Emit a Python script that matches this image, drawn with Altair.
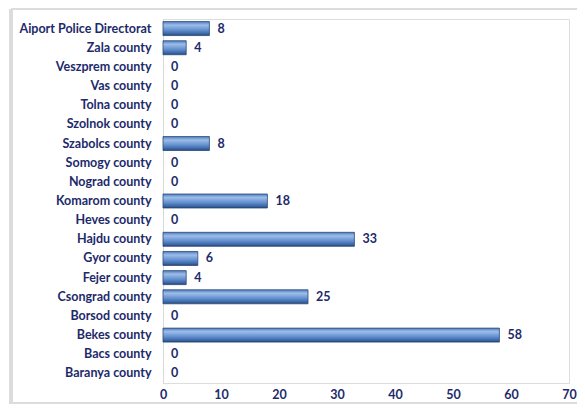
import altair as alt
import pandas as pd

categories = ["Aiport Police Directorat", "Zala county", "Veszprem county", "Vas county",
              "Tolna county", "Szolnok county", "Szabolcs county", "Somogy county",
              "Nograd county", "Komarom county", "Heves county", "Hajdu county",
              "Gyor county", "Fejer county", "Csongrad county", "Borsod county",
              "Bekes county", "Bacs county", "Baranya county"]
values = [8, 4, 0, 0, 0, 0, 8, 0, 0, 18, 0, 33, 6, 4, 25, 0, 58, 0, 0]
x_ticks = [0, 10, 20, 30, 40, 50, 60, 70]

df = pd.DataFrame({"cat": categories, "val": values})

NAVY = "#1c2a6b"
FONT = "Lato"
FS = 12.5

gradient = alt.Gradient(
    gradient="linear", x1=0, y1=0, x2=0, y2=1,
    stops=[
        alt.GradientStop(color="#4f7dbd", offset=0),
        alt.GradientStop(color="#9dbde9", offset=0.25),
        alt.GradientStop(color="#6491d0", offset=0.6),
        alt.GradientStop(color="#3a64a3", offset=0.88),
        alt.GradientStop(color="#27436f", offset=1),
    ],
)

y_enc = alt.Y(
    "cat:N", sort=categories, title=None,
    scale=alt.Scale(paddingInner=0.27, paddingOuter=0.135),
    axis=alt.Axis(labelFont=FONT, labelFontSize=FS, labelFontWeight="bold",
                  labelColor=NAVY, ticks=False, domainColor="#d9d9d9",
                  labelPadding=12, domainWidth=1),
)
x_enc = alt.X(
    "val:Q", title=None,
    scale=alt.Scale(domain=[0, 70], nice=False),
    axis=alt.Axis(values=x_ticks, labelFont=FONT, labelFontSize=FS,
                  labelFontWeight="bold", labelColor=NAVY, grid=False,
                  ticks=False, domain=False, labelPadding=5, format="d",
                  labelFlush=False, labelOverlap=False, labelBound=False),
)

bars = alt.Chart(df).transform_filter("datum.val > 0").mark_bar(
    color=gradient, stroke="#2a4a7a", strokeWidth=0.8
).encode(x=x_enc, y=y_enc)

labels = alt.Chart(df).mark_text(
    align="left", baseline="middle", dx=8, font=FONT, fontSize=FS,
    fontWeight="bold", color=NAVY
).encode(x=alt.X("val:Q"), y=alt.Y("cat:N", sort=categories), text="val:Q")

# decorative frame around the chart area
frame_top = alt.Chart(df).mark_rule(color="#dcdcdc", strokeWidth=2).encode(
    x=alt.value(-152), x2=alt.value(430), y=alt.value(-10))
frame_left = alt.Chart(df).mark_rule(color="#dcdcdc", strokeWidth=3).encode(
    x=alt.value(-152), y=alt.value(-10), y2=alt.value(390))
frame_bottom = alt.Chart(df).mark_rule(color="#dcdcdc", strokeWidth=2).encode(
    x=alt.value(-152), x2=alt.value(430), y=alt.value(384))

chart = alt.layer(frame_top, frame_left, frame_bottom, bars, labels).properties(
    width=406, height=364,
    autosize=alt.AutoSizeParams(type="none"),
    padding={"left": 155, "top": 11, "right": 8, "bottom": 21},
).configure_view(stroke=None).configure(background="white")

chart.save("out.html", embed_options={"renderer": "svg", "actions": False})
